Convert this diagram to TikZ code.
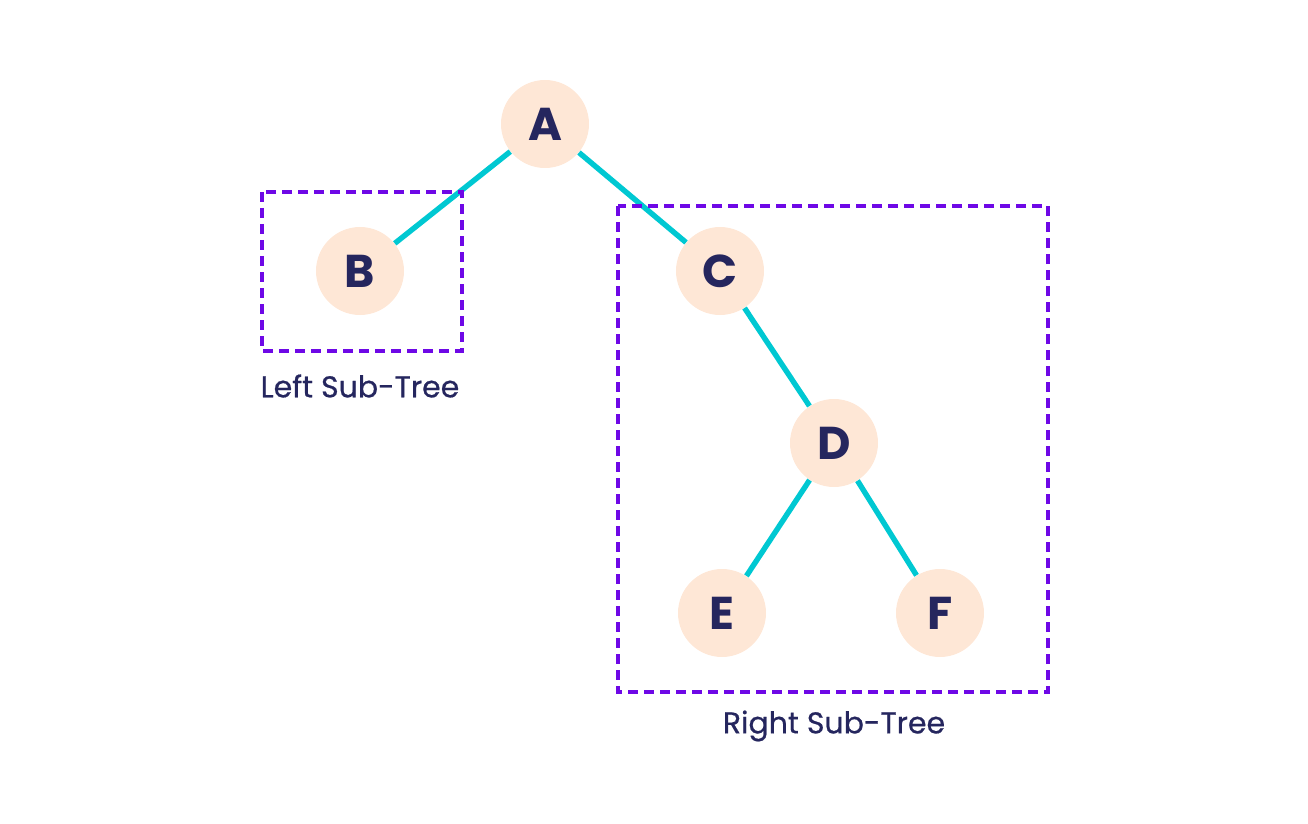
\documentclass[tikz,border=0pt]{standalone}
\usepackage{fontspec}
\setmainfont{Poppins}
\newfontfamily\lblfont[FakeBold=0.6]{Poppins}
\definecolor{nodefill}{HTML}{FEE7D6}
\definecolor{txt}{HTML}{25265E}
\definecolor{edgec}{HTML}{00C8D2}
\definecolor{boxc}{HTML}{6E08E6}
\begin{document}
\begin{tikzpicture}[x=0.5pt,y=-0.5pt,
  treenode/.style={circle,fill=nodefill,minimum size=44pt,inner sep=0pt,text=txt,font=\fontsize{23}{23}\selectfont\bfseries},
  edge/.style={draw=edgec,line width=2.7pt},
  subbox/.style={draw=boxc,line width=2pt,dash pattern=on 5pt off 3pt},
  lbl/.style={text=txt,font=\lblfont\fontsize{15}{15}\selectfont}]
\useasboundingbox (0,0) rectangle (1308,824);
\node[treenode] (A) at (545,124) {A};
\node[treenode] (B) at (360,271) {B};
\node[treenode] (C) at (720,271) {C};
\node[treenode] (D) at (834,443) {D};
\node[treenode] (E) at (722,613) {E};
\node[treenode] (F) at (940,613) {F};
\path[edge] (A) -- (B);
\path[edge] (A) -- (C);
\path[edge] (C) -- (D);
\path[edge] (D) -- (E);
\path[edge] (D) -- (F);
\draw[subbox] (262,192) rectangle (462,351);
\draw[subbox] (618,206) rectangle (1048,692);
\node[lbl] (L) at (360,386) {Left Sub-Tree};
\node[lbl] (R) at (834,726) {Right Sub-Tree};
\end{tikzpicture}
\end{document}
